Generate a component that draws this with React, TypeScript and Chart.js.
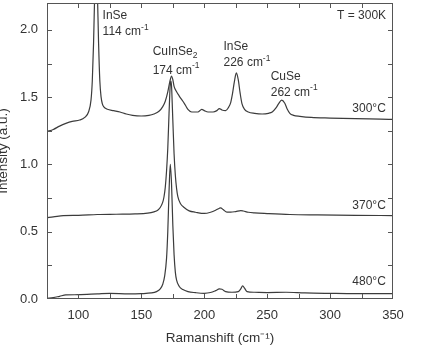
import { useEffect, useRef } from 'react';
import { Chart, registerables } from 'chart.js';

Chart.register(...registerables);

// ---- data (Raman shift in cm-1, intensity in a.u.) ----
const x300 = [75, 80, 85, 90, 95, 101, 105, 108, 110, 111, 112, 113, 114, 115, 116, 117, 118, 119, 120, 123, 128, 133, 138, 143, 150, 156, 160, 164, 167, 169, 171, 172.5, 174, 175, 176, 178, 180, 183, 185, 187, 190, 195, 198, 200, 203, 207, 210, 212, 214, 217, 219, 221, 222.5, 224, 225.5, 227, 228.5, 230, 232, 235, 240, 246, 251, 254, 257, 259, 261.5, 264, 266, 268, 271, 276, 285, 300, 320, 340, 350];
const y300 = [1.245, 1.26, 1.285, 1.305, 1.32, 1.33, 1.35, 1.39, 1.48, 1.62, 1.9, 2.3, 2.55, 2.3, 1.9, 1.62, 1.5, 1.45, 1.43, 1.41, 1.40, 1.39, 1.375, 1.365, 1.36, 1.365, 1.375, 1.395, 1.43, 1.47, 1.54, 1.61, 1.657, 1.63, 1.58, 1.54, 1.51, 1.47, 1.44, 1.41, 1.39, 1.39, 1.41, 1.4, 1.39, 1.39, 1.4, 1.415, 1.405, 1.4, 1.42, 1.46, 1.53, 1.62, 1.68, 1.63, 1.53, 1.45, 1.41, 1.39, 1.38, 1.375, 1.38, 1.39, 1.42, 1.45, 1.478, 1.455, 1.41, 1.38, 1.365, 1.358, 1.35, 1.345, 1.34, 1.337, 1.335];

const x370 = [75, 80, 88, 100, 115, 130, 145, 155, 160, 163, 165, 167, 168, 169, 170, 171, 172, 173, 173.5, 174, 175, 176, 177, 178, 179, 181, 184, 188, 193, 200, 205, 209, 212, 213, 215, 218, 221, 225, 229, 231, 235, 240, 250, 268, 290, 320, 350];
const y370 = [0.605, 0.61, 0.62, 0.622, 0.628, 0.63, 0.632, 0.638, 0.648, 0.66, 0.68, 0.72, 0.76, 0.83, 0.95, 1.12, 1.38, 1.6, 1.62, 1.58, 1.33, 1.08, 0.92, 0.82, 0.76, 0.71, 0.68, 0.655, 0.645, 0.636, 0.645, 0.66, 0.675, 0.678, 0.665, 0.645, 0.645, 0.65, 0.657, 0.654, 0.645, 0.64, 0.635, 0.628, 0.625, 0.622, 0.62];

const x480 = [75, 80, 85, 90, 100, 115, 125, 140, 150, 158, 162, 165, 167, 168.5, 170, 171, 172, 173, 174, 175, 176, 177, 178, 180, 183, 187, 193, 200, 205, 209, 212, 214, 217, 222, 227, 229, 230.5, 232, 234, 240, 250, 265, 280, 300, 320, 350];
const y480 = [0.005, 0.01, 0.02, 0.03, 0.032, 0.038, 0.042, 0.038, 0.04, 0.045, 0.055, 0.075, 0.11, 0.17, 0.3, 0.5, 0.8, 1.0, 0.85, 0.55, 0.33, 0.2, 0.14, 0.095, 0.07, 0.055, 0.047, 0.042, 0.048, 0.062, 0.075, 0.072, 0.055, 0.05, 0.055, 0.075, 0.098, 0.08, 0.055, 0.05, 0.048, 0.05, 0.045, 0.042, 0.04, 0.04];

const xMajorTicks = [100, 150, 200, 250, 300, 350];
const xMinorTicks = [125, 175, 225, 275, 325];
const yMajorTicks = [0, 0.5, 1.0, 1.5, 2.0];
const yMinorTicks = [0.25, 0.75, 1.25, 1.75];

// text labels placed in data coordinates
type Part = [string, 'n' | 'sup' | 'sub'];
const labelX = [119.2, 119.2, 159, 159, 215.3, 215.3, 252.8, 252.8, 344.5, 344.3, 344.3, 344.3];
const labelY = [2.104, 1.985, 1.836, 1.70, 1.873, 1.754, 1.649, 1.537, 2.104, 1.418, 0.696, 0.125];
const labelParts: Part[][] = [
  [['InSe', 'n']],
  [['114 cm', 'n'], ['-1', 'sup']],
  [['CuInSe', 'n'], ['2', 'sub']],
  [['174 cm', 'n'], ['-1', 'sup']],
  [['InSe', 'n']],
  [['226 cm', 'n'], ['-1', 'sup']],
  [['CuSe', 'n']],
  [['262 cm', 'n'], ['-1', 'sup']],
  [['T = 300K', 'n']],
  [['300°C', 'n']],
  [['370°C', 'n']],
  [['480°C', 'n']],
];
const labelRight = [false, false, false, false, false, false, false, false, true, true, true, true];

const FONT = '"Liberation Sans", Arial, Helvetica, sans-serif';
const TEXT = '#333333';
const LINE = '#3c3c3c';
const FRAME = '#555555';

const decorPlugin = {
  id: 'decor',
  afterDraw(chart: any) {
    const { ctx, chartArea: a, scales } = chart;
    const xs = scales.x;
    const ys = scales.y;
    ctx.save();
    // frame
    ctx.strokeStyle = FRAME;
    ctx.lineWidth = 1;
    ctx.strokeRect(Math.round(a.left) + 0.5, Math.round(a.top) + 0.5, Math.round(a.right - a.left) - 1, Math.round(a.bottom - a.top) - 1);
    // inward ticks on all sides
    const tl = 5;
    ctx.beginPath();
    for (const v of [...xMajorTicks, ...xMinorTicks]) {
      const px = Math.round(xs.getPixelForValue(v)) + 0.5;
      if (px <= a.left + 1 || px >= a.right - 1) continue;
      ctx.moveTo(px, a.bottom);
      ctx.lineTo(px, a.bottom - tl);
      ctx.moveTo(px, a.top);
      ctx.lineTo(px, a.top + tl);
    }
    for (const v of [...yMajorTicks, ...yMinorTicks]) {
      const py = Math.round(ys.getPixelForValue(v)) + 0.5;
      if (py <= a.top + 1 || py >= a.bottom - 1) continue;
      ctx.moveTo(a.left, py);
      ctx.lineTo(a.left + tl, py);
      ctx.moveTo(a.right, py);
      ctx.lineTo(a.right - tl, py);
    }
    ctx.stroke();

    // text labels
    ctx.fillStyle = TEXT;
    ctx.textBaseline = 'middle';
    ctx.textAlign = 'left';
    const mainSize = 12;
    const smallSize = 8.5;
    labelParts.forEach((parts, i) => {
      const px = xs.getPixelForValue(labelX[i]);
      const py = ys.getPixelForValue(labelY[i]);
      let total = 0;
      const widths = parts.map(([t, k]) => {
        ctx.font = `${k === 'n' ? mainSize : smallSize}px ${FONT}`;
        const w = ctx.measureText(t).width;
        total += w;
        return w;
      });
      let cx = labelRight[i] ? px - total : px;
      parts.forEach(([t, k], j) => {
        ctx.font = `${k === 'n' ? mainSize : smallSize}px ${FONT}`;
        const dy = k === 'sup' ? -4.5 : k === 'sub' ? 3.5 : 0;
        ctx.fillText(t, cx, py + dy);
        cx += widths[j];
      });
    });
    ctx.restore();
  },
};

export default function App() {
  const ref = useRef<HTMLCanvasElement>(null);
  useEffect(() => {
    if (!ref.current) return;
    const mk = (xa: number[], ya: number[]) => xa.map((x, i) => ({ x, y: ya[i] }));
    const ds = (label: string, xa: number[], ya: number[]) => ({
      label,
      data: mk(xa, ya),
      borderColor: LINE,
      borderWidth: 1.2,
      pointRadius: 0,
      fill: false,
      cubicInterpolationMode: 'monotone' as const,
    });
    const chart = new Chart(ref.current, {
      type: 'line',
      data: {
        datasets: [ds('300°C', x300, y300), ds('370°C', x370, y370), ds('480°C', x480, y480)],
      },
      options: {
        animation: false,
        responsive: false,
        layout: { padding: { top: 3, right: 31, left: 0, bottom: 0 } },
        plugins: { legend: { display: false }, tooltip: { enabled: false } },
        scales: {
          x: {
            type: 'linear',
            min: 75,
            max: 350,
            afterBuildTicks: (s: any) => {
              s.ticks = [...xMajorTicks, ...xMinorTicks].sort((a, b) => a - b).map((v) => ({ value: v }));
            },
            afterFit: (s: any) => {
              s.height = 57;
              s.paddingLeft = 0;
              s.paddingRight = 0;
            },
            ticks: {
              autoSkip: false,
              maxRotation: 0,
              padding: 9,
              color: TEXT,
              font: { family: FONT, size: 13 },
              callback: (v: any) => (xMajorTicks.includes(Number(v)) ? String(v) : ''),
            },
            grid: { display: false, drawTicks: false },
            border: { display: false },
            title: {
              display: true,
              text: 'Ramanshift (cm⁻¹)',
              color: TEXT,
              font: { family: FONT, size: 13.5 },
              padding: { top: 0, bottom: 10 },
            },
          },
          y: {
            type: 'linear',
            min: 0,
            max: 2.2,
            afterBuildTicks: (s: any) => {
              s.ticks = [...yMajorTicks, ...yMinorTicks].sort((a, b) => a - b).map((v) => ({ value: v }));
            },
            afterFit: (s: any) => {
              s.width = 47;
              s.paddingTop = 0;
              s.paddingBottom = 0;
            },
            ticks: {
              autoSkip: false,
              padding: 9,
              color: TEXT,
              font: { family: FONT, size: 13 },
              callback: (v: any) => (yMajorTicks.includes(Number(v)) ? Number(v).toFixed(1) : ''),
            },
            grid: { display: false, drawTicks: false },
            border: { display: false },
            title: {
              display: true,
              text: 'Intensity (a.u.)',
              color: TEXT,
              font: { family: FONT, size: 13.5 },
              padding: { top: -5, bottom: 0 },
            },
          },
        },
      },
      plugins: [decorPlugin],
    });
    return () => chart.destroy();
  }, []);
  return (
    <div style={{ position: 'absolute', left: 0, top: 0, width: 424, height: 356, background: '#fff' }}>
      <canvas ref={ref} width={424} height={356} style={{ display: 'block' }} />
    </div>
  );
}
